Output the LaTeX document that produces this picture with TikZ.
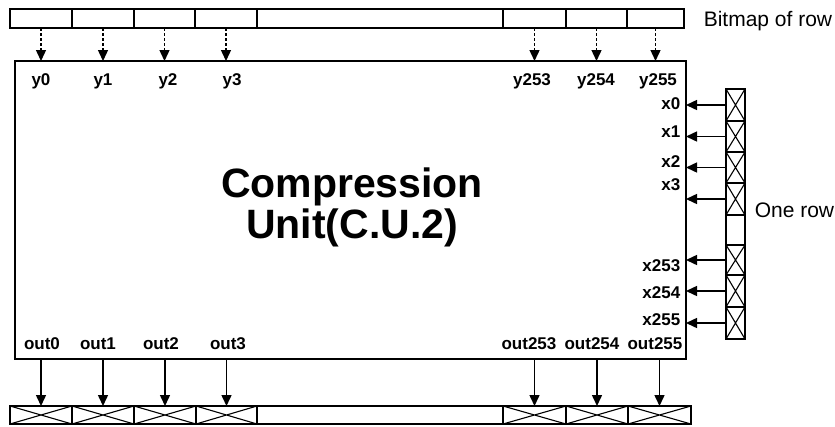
\documentclass[tikz,border=0pt]{standalone}
\usepackage{fontspec}
\setmainfont{Liberation Sans}
\usetikzlibrary{arrows.meta,positioning}

\begin{document}
\begin{tikzpicture}[x=1pt,y=-1pt,line width=1.5pt,
    cell/.style={draw,inner sep=0pt,outer sep=0pt,minimum height=19pt},
    xcell/.style={cell,path picture={\draw[line width=1.1pt] (path picture bounding box.north west) -- (path picture bounding box.south east) (path picture bounding box.south west) -- (path picture bounding box.north east);}},
    lbl/.style={font=\bfseries\fontsize{17}{17}\selectfont,inner sep=0pt},
    txt/.style={font=\fontsize{21}{21}\selectfont,inner sep=0pt},
    tip/.style={-{Triangle[width=10pt,length=11pt]}}]
  \useasboundingbox (0,0) rectangle (835,426);
  % compression unit
  \node[draw,inner sep=0pt,outer sep=0pt,minimum width=671pt,minimum height=298pt] (cu) at (350.5,210) {};
  \node[font=\bfseries\fontsize{41}{41}\selectfont,align=center,inner sep=0pt] (title) at (352,207) {Compression\\Unit(C.U.2)};
  % bitmap of row
  \foreach \a/\b/\n in {10/72/0,72/134/1,134/195/2,195/257/3,257/503/gap,503/566/253,566/627/254,627/684/255}
    \node[cell,minimum width={\b-\a}] (t\n) at ({(\a+\b)/2},18.5) {};
  \node[txt,anchor=base west] (bitmap) at (703,26.5) {Bitmap of row};
  \foreach \n/\x in {0/41,1/103,2/168,3/232,253/532,254/596,255/658}{
    \draw[tip,line width=1.4pt,dash pattern=on 3pt off 2pt] (t\n.south) -- (t\n.south |- cu.north);
    \node[lbl,anchor=base] (y\n) at (\x,85) {y\n};
  }
  % one row
  \foreach \a/\b/\n in {89/121/0,121/152/1,152/183/2,183/215/3,245/275/253,275/307/254,307/339/255}
    \node[xcell,minimum width=19pt,minimum height={\b-\a}] (r\n) at (735.5,{(\a+\b)/2}) {};
  \node[cell,minimum width=19pt,minimum height=30pt] (rgap) at (735.5,230) {};
  \node[txt,anchor=base west] (onerow) at (754,217) {One row};
  \foreach \n/\y in {0/109,1/137,2/167,3/190,253/271,254/298,255/325}{
    \draw[tip] (r\n.west) -- (r\n.west -| cu.east);
    \node[lbl,anchor=base east] (x\n) at (681,\y) {x\n};
  }
  % output row
  \foreach \a/\b/\n in {10/72/0,72/134/1,134/196/2,196/257/3,503/566/253,566/628/254,628/691/255}
    \node[xcell,minimum width={\b-\a},minimum height=18pt] (b\n) at ({(\a+\b)/2},415) {};
  \node[cell,minimum width=246pt,minimum height=18pt] (bgap) at (380,415) {};
  \foreach \n/\x in {0/42,1/98,2/161,3/228,253/529,254/592,255/655}{
    \draw[tip] (b\n.north |- cu.south) -- (b\n.north);
    \node[lbl,anchor=base] (out\n) at (\x,349) {out\n};
  }
\end{tikzpicture}
\end{document}
